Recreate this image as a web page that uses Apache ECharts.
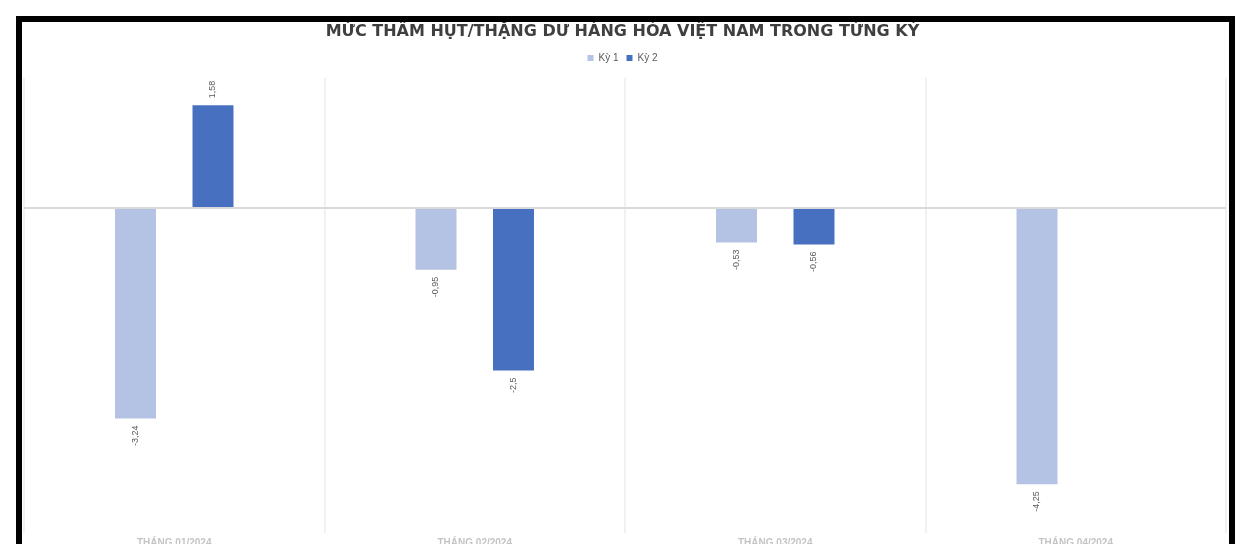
<!DOCTYPE html>
<html>
<head>
<meta charset="utf-8">
<script src="https://cdn.jsdelivr.net/npm/echarts@6/dist/echarts.min.js"></script>
<style>
html,body{margin:0;padding:0;background:#fff;}
#c{width:1245px;height:544px;}
</style>
</head>
<body>
<div id="c"></div>
<script>
const categories = ['THÁNG 01/2024', 'THÁNG 02/2024', 'THÁNG 03/2024', 'THÁNG 04/2024'];
const ky1 = [-3.24, -0.95, -0.53, -4.25];
const ky2 = [1.58, -2.5, -0.56, null];
const seriesNames = ['Kỳ 1', 'Kỳ 2'];
const titleText = 'MỨC THÂM HỤT/THẶNG DƯ HÀNG HÓA VIỆT NAM TRONG TỪNG KỲ';

const chart = echarts.init(document.getElementById('c'), null, {renderer: 'canvas'});
const fmt = p => String(p.value).replace('.', ',');
const labelCfg = {
  show: true,
  rotate: 90,
  fontSize: 9,
  color: '#595959',
  fontFamily: 'Liberation Sans, Arial, sans-serif',
  formatter: fmt,
  distance: 7
};
const mkData = vals => vals.map(v => v == null ? null : {
  value: v,
  label: Object.assign({}, labelCfg, {
    position: v >= 0 ? 'top' : 'bottom',
    align: v >= 0 ? 'left' : 'right',
    verticalAlign: 'middle'
  })
});
chart.setOption({
  animation: false,
  backgroundColor: '#fff',
  title: {
    text: titleText,
    left: 'center',
    top: 19,
    textStyle: {fontSize: 16, fontWeight: 'bold', color: '#3f3f3f', fontFamily: 'DejaVu Sans, sans-serif'}
  },
  legend: {
    data: seriesNames,
    left: 'center',
    top: 48,
    itemWidth: 6,
    itemHeight: 6,
    itemGap: 8,
    textStyle: {fontSize: 10, color: '#595959', fontFamily: 'Liberation Sans, Arial, sans-serif'},
    icon: 'rect'
  },
  grid: {left: 24, right: 19, top: 78, bottom: 11, containLabel: false, outerBoundsMode: 'none'},
  xAxis: {
    type: 'category',
    data: categories,
    axisLine: {show: false, onZero: false},
    axisTick: {show: false},
    splitLine: {show: true, lineStyle: {color: '#ececec', width: 1.5}},
    axisLabel: {margin: 5, fontSize: 10, color: '#c4c4c4', fontWeight: 'bold', fontFamily: 'Liberation Sans, Arial, sans-serif'}
  },
  yAxis: {
    type: 'value',
    min: -5,
    max: 2,
    interval: 1,
    axisLine: {show: false},
    axisTick: {show: false},
    axisLabel: {show: false},
    splitLine: {show: false}
  },
  series: [
    {
      name: seriesNames[0],
      type: 'bar',
      data: mkData(ky1),
      barWidth: 41,
      barGap: '89%',
      itemStyle: {color: '#b4c3e3'},
      markLine: {
        silent: true,
        symbol: 'none',
        label: {show: false},
        lineStyle: {color: '#d9d9d9', width: 2, type: 'solid'},
        data: [{yAxis: 0}]
      }
    },
    {
      name: seriesNames[1],
      type: 'bar',
      data: mkData(ky2),
      barWidth: 41,
      barGap: '89%',
      itemStyle: {color: '#4870c0'}
    }
  ],
  graphic: [
    {type: 'rect', z: 100, shape: {x: 16, y: 16, width: 1219, height: 6}, style: {fill: '#000'}},
    {type: 'rect', z: 100, shape: {x: 16, y: 16, width: 6, height: 528}, style: {fill: '#000'}},
    {type: 'rect', z: 100, shape: {x: 1229, y: 16, width: 6, height: 528}, style: {fill: '#000'}}
  ]
});
</script>
</body>
</html>
